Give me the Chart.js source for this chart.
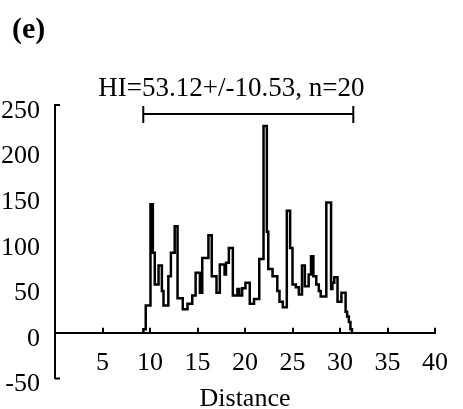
<!DOCTYPE html>
<html>
<head>
<meta charset="utf-8">
<script src="https://cdn.jsdelivr.net/npm/chart.js@4"></script>
<style>
  html, body { margin: 0; padding: 0; background: #fff; }
</style>
</head>
<body>
<canvas id="hist" width="463" height="409"></canvas>
<script>
// step positions along the distance axis (left edge of each step)
const distance = [9.25, 9.3, 9.55, 10.05, 10.3, 10.5, 10.9, 11.25, 11.42, 11.93,
  12.2, 12.6, 12.9, 13.45, 13.95, 14.45, 14.8, 15.25, 15.5, 16.15,
  16.5, 17.0, 17.35, 17.85, 18.0, 18.3, 18.72, 19.2, 19.4, 19.7,
  20.05, 20.5, 20.95, 21.5, 21.95, 22.3, 22.45, 22.9, 23.4, 23.63,
  23.98, 24.4, 24.75, 25.0, 25.35, 25.67, 26.0, 26.3, 26.7, 26.95,
  27.2, 27.5, 27.77, 27.97, 28.56, 29.06, 29.2, 29.4, 29.74, 30.15,
  30.59, 30.75, 30.93, 31.1, 31.26];
const hiValues = [0, 4, 30, 141, 88, 53, 74, 46, 30, 62,
  88, 117, 38, 26, 32, 41, 66, 44, 82, 107,
  62, 44, 75, 64, 77, 93, 41, 48, 41, 49,
  55, 32, 37, 81, 227, 111, 70, 62, 46, 34,
  28, 134, 93, 53, 50, 42, 74, 51, 64, 84,
  62, 53, 46, 40, 143, 48, 55, 61, 34, 44,
  23, 18, 12, 4, 0];

const panelLabel = '(e)';
const xTitle = 'Distance';
const hiText = 'HI=53.12+/-10.53, n=20';
const hiRange = [9.29, 31.4];   // bracket ends
const hiLevel = 240;            // bracket height
const hiTextX = 18.56;

const serif = 'Liberation Serif';

const extras = {
  id: 'extras',
  afterDraw(chart) {
    const {ctx, scales: {x, y}} = chart;
    const y0 = y.getPixelForValue(0);
    ctx.save();
    ctx.strokeStyle = '#000';
    ctx.fillStyle = '#000';
    ctx.lineWidth = 2;

    // small x tick marks pointing up
    ctx.beginPath();
    x.ticks.forEach(t => {
      if (t.value <= 0) return;
      const px = Math.round(x.getPixelForValue(t.value));
      ctx.moveTo(px, y0);
      ctx.lineTo(px, y0 - 5);
    });
    // little hooks at both ends of the y axis
    const left = chart.chartArea.left;
    [y.max, y.min].forEach(v => {
      const py = y.getPixelForValue(v);
      ctx.moveTo(left, py);
      ctx.lineTo(left + 5, py);
    });
    ctx.stroke();

    // HI bracket
    const bx1 = x.getPixelForValue(hiRange[0]);
    const bx2 = x.getPixelForValue(hiRange[1]);
    const by = y.getPixelForValue(hiLevel);
    ctx.beginPath();
    ctx.moveTo(bx1, by); ctx.lineTo(bx2, by);
    ctx.moveTo(bx1, by - 8); ctx.lineTo(bx1, by + 9);
    ctx.moveTo(bx2, by - 8); ctx.lineTo(bx2, by + 9);
    ctx.stroke();

    ctx.font = '27px "' + serif + '"';
    ctx.textAlign = 'center';
    ctx.textBaseline = 'alphabetic';
    ctx.fillText(hiText, x.getPixelForValue(hiTextX), by - 18);

    // axis title
    ctx.font = '26px "' + serif + '"';
    ctx.fillText(xTitle, (chart.chartArea.left + chart.chartArea.right) / 2, 406);

    // panel label
    ctx.font = 'bold 30px "' + serif + '"';
    ctx.textAlign = 'left';
    ctx.fillText(panelLabel, 12, 38);
    ctx.restore();
  }
};

const tickFont = {family: serif, size: 26};

new Chart(document.getElementById('hist'), {
  type: 'line',
  data: {
    datasets: [{
      data: distance.map((d, i) => ({x: d, y: hiValues[i]})),
      stepped: true,
      borderColor: '#000',
      borderWidth: 2.5,
      pointRadius: 0,
      fill: false
    }]
  },
  options: {
    responsive: false,
    animation: false,
    layout: {padding: {left: 0, right: 13, top: 105, bottom: 28}},
    plugins: {legend: {display: false}, tooltip: {enabled: false}},
    scales: {
      x: {
        type: 'linear',
        min: 0,
        max: 40,
        position: {y: 0},
        afterFit: s => { s.height = 0; },
        grid: {display: false, drawTicks: false},
        border: {color: '#000', width: 2},
        ticks: {
          stepSize: 5,
          padding: 15,
          color: '#000',
          font: tickFont,
          maxRotation: 0,
          autoSkip: false,
          callback: v => v === 0 ? '' : v
        }
      },
      y: {
        min: -50,
        max: 250,
        afterFit: s => { s.width = 55; },
        grid: {display: false, drawTicks: false},
        border: {color: '#000', width: 2},
        ticks: {
          stepSize: 50,
          padding: 15,
          labelOffset: 6,
          color: '#000',
          font: tickFont
        }
      }
    }
  },
  plugins: [extras]
});
</script>
</body>
</html>
